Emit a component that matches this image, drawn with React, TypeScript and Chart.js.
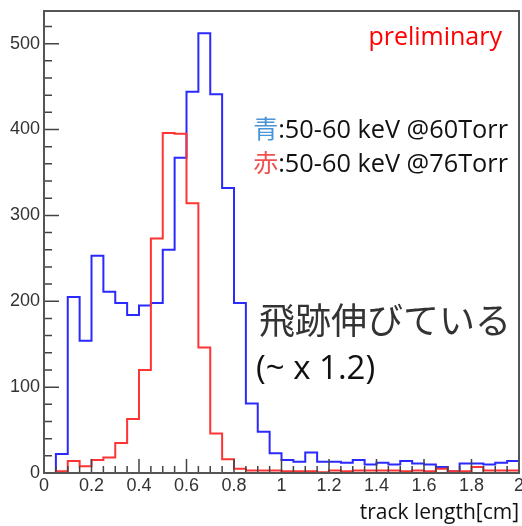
import React, { useEffect, useRef } from "react";
import { Chart, registerables } from "chart.js";

Chart.register(...registerables);

// Bin lower edges (cm), bin width 0.05, plus the upper edge 2.0
const BIN_EDGES = [
  0.0, 0.05, 0.1, 0.15, 0.2, 0.25, 0.3, 0.35, 0.4, 0.45,
  0.5, 0.55, 0.6, 0.65, 0.7, 0.75, 0.8, 0.85, 0.9, 0.95,
  1.0, 1.05, 1.1, 1.15, 1.2, 1.25, 1.3, 1.35, 1.4, 1.45,
  1.5, 1.55, 1.6, 1.65, 1.7, 1.75, 1.8, 1.85, 1.9, 1.95, 2.0,
];

// Blue: 50-60 keV @60Torr
const BLUE_COUNTS = [
  0, 22, 205, 154, 253, 211, 198, 184, 195, 198,
  260, 367, 444, 512, 441, 332, 198, 81, 48, 23,
  15, 13, 24, 13, 13, 12, 15, 10, 12, 10,
  14, 11, 10, 7, 2, 11, 11, 10, 12, 14,
];

// Red: 50-60 keV @76Torr
const RED_COUNTS = [
  0, 2, 14, 8, 15, 18, 35, 63, 120, 273,
  396, 395, 314, 146, 46, 16, 5, 3, 3, 3,
  2, 2, 2, 1, 3, 2, 3, 3, 3, 3,
  2, 3, 2, 5, 2, 2, 7, 3, 3, 3,
];

const X_TICK_VALUES = [0, 0.2, 0.4, 0.6, 0.8, 1, 1.2, 1.4, 1.6, 1.8, 2];
const X_TICK_LABELS = ["0", "0.2", "0.4", "0.6", "0.8", "1", "1.2", "1.4", "1.6", "1.8", "2"];
const Y_TICK_VALUES = [0, 100, 200, 300, 400, 500];
const Y_TICK_LABELS = ["0", "100", "200", "300", "400", "500"];

const X_MIN = 0;
const X_MAX = 2;
const Y_MIN = 0;
const Y_MAX = 538;

// point i sits on the lower edge of bin i; the last point repeats the last bin at the upper edge
const toSteps = (counts: number[]) =>
  BIN_EDGES.map((x, i) => ({ x, y: counts[Math.min(i, counts.length - 1)] }));

const framePlugin = {
  id: "frameTicks",
  afterDatasetsDraw(chart: any) {
    const { ctx, chartArea: a, scales } = chart;
    const x = scales.x;
    const y = scales.y;
    ctx.save();
    ctx.strokeStyle = "#444";
    ctx.lineWidth = 1.5;
    ctx.beginPath();
    for (let i = 0; i <= 40; i++) {
      const v = i * 0.05;
      const px = x.getPixelForValue(v);
      const len = i % 4 === 0 ? 14 : 7;
      ctx.moveTo(px, a.bottom);
      ctx.lineTo(px, a.bottom - len);
    }
    for (let k = 0; k <= 26; k++) {
      const v = k * 20;
      const py = y.getPixelForValue(v);
      const len = v % 100 === 0 ? 15 : 8;
      ctx.moveTo(a.left, py);
      ctx.lineTo(a.left + len, py);
    }
    ctx.stroke();
    ctx.lineWidth = 2;
    ctx.strokeStyle = "#555";
    ctx.strokeRect(a.left, a.top, a.right - a.left, a.bottom - a.top);
    ctx.restore();
  },
  afterDraw(chart: any) {
    const { ctx } = chart;
    ctx.save();
    ctx.textBaseline = "alphabetic";

    // preliminary
    ctx.font = '25px "Open Sans"';
    ctx.fillStyle = "#ff0000";
    ctx.textAlign = "right";
    ctx.fillText("preliminary", 502, 45);

    // legend lines
    const lines = [
      { mark: "青", color: "#4a94d8", rest: ":50-60 keV @60Torr", base: 138 },
      { mark: "赤", color: "#f05050", rest: ":50-60 keV @76Torr", base: 172 },
    ];
    for (const l of lines) {
      ctx.font = '25.3px "Open Sans"';
      const w = ctx.measureText(l.rest).width;
      const sx = 508 - w;
      ctx.textAlign = "left";
      ctx.fillStyle = "#111";
      ctx.fillText(l.rest, sx, l.base);
      ctx.font = '25px "Noto Sans CJK JP"';
      ctx.textAlign = "right";
      ctx.fillStyle = l.color;
      ctx.fillText(l.mark, sx, l.base);
    }

    // comment
    ctx.font = '36px "Noto Sans CJK JP"';
    ctx.fillStyle = "#333";
    ctx.textAlign = "left";
    ctx.textBaseline = "middle";
    ctx.fillText("飛跡伸びている", 259, 320);
    ctx.textBaseline = "alphabetic";
    ctx.font = '33px "Open Sans"';
    ctx.fillStyle = "#111";
    ctx.fillText("(~ x 1.2)", 256, 379);
    ctx.restore();
  },
};

export default function App() {
  const ref = useRef<HTMLCanvasElement | null>(null);

  useEffect(() => {
    if (!ref.current) return;
    Chart.defaults.font.family = "Liberation Sans";
    const chart = new Chart(ref.current, {
      type: "line",
      data: {
        datasets: [
          {
            label: "60Torr",
            data: toSteps(BLUE_COUNTS),
            borderColor: "#2a2aff",
            borderWidth: 2,
            stepped: "before",
            pointRadius: 0,
            fill: false,
            order: 2,
          },
          {
            label: "76Torr",
            data: toSteps(RED_COUNTS),
            borderColor: "#ff3535",
            borderWidth: 2,
            stepped: "before",
            pointRadius: 0,
            fill: false,
            order: 1,
          },
        ],
      },
      options: {
        responsive: false,
        maintainAspectRatio: false,
        animation: false,
        parsing: false,
        normalized: true,
        layout: { padding: { top: 11, right: 3, left: 0, bottom: 0 } },
        plugins: {
          legend: { display: false },
          tooltip: { enabled: false },
        },
        scales: {
          x: {
            type: "linear",
            min: X_MIN,
            max: X_MAX,
            grid: { display: false, drawTicks: false },
            border: { display: false },
            afterBuildTicks: (s: any) => {
              s.ticks = X_TICK_VALUES.map((value) => ({ value }));
            },
            afterFit: (s: any) => {
              s.height = 53;
              s.paddingLeft = 0;
              s.paddingRight = 0;
            },
            ticks: {
              autoSkip: false,
              maxRotation: 0,
              padding: 2,
              color: "#333",
              font: { family: "Liberation Sans", size: 18 },
              callback: (_v: any, i: number) => X_TICK_LABELS[i],
            },
            title: {
              display: true,
              text: "track length[cm]",
              align: "end",
              color: "#111",
              font: { family: "Open Sans", size: 21 },
              padding: { top: 0, bottom: 0 },
            },
          },
          y: {
            type: "linear",
            min: Y_MIN,
            max: Y_MAX,
            grid: { display: false, drawTicks: false },
            border: { display: false },
            afterBuildTicks: (s: any) => {
              s.ticks = Y_TICK_VALUES.map((value) => ({ value }));
            },
            afterFit: (s: any) => {
              s.width = 44;
              s.paddingTop = 0;
              s.paddingBottom = 0;
            },
            ticks: {
              autoSkip: false,
              padding: 4,
              color: "#333",
              font: { family: "Liberation Sans", size: 18 },
              callback: (_v: any, i: number) => Y_TICK_LABELS[i],
            },
          },
        },
      },
      plugins: [framePlugin],
    });
    return () => chart.destroy();
  }, []);

  return (
    <div
      style={{
        position: "fixed",
        left: 0,
        top: 0,
        width: 522,
        height: 526,
        background: "#fff",
      }}
    >
      <canvas ref={ref} width={522} height={526} style={{ display: "block" }} />
    </div>
  );
}
